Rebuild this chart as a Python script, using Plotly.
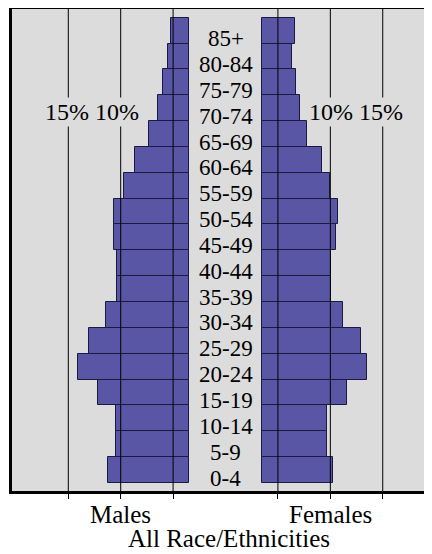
import plotly.graph_objects as go

ages = ["0-4", "5-9", "10-14", "15-19", "20-24", "25-29", "30-34", "35-39",
        "40-44", "45-49", "50-54", "55-59", "60-64", "65-69", "70-74",
        "75-79", "80-84", "85+"]
males = [7.68, 6.98, 6.98, 8.70, 10.55, 9.53, 7.93, 6.85, 6.85, 7.10, 7.10,
         6.21, 5.13, 3.76, 2.90, 2.42, 1.94, 1.72]
females = [6.79, 6.15, 6.15, 8.10, 9.97, 9.43, 7.71, 6.60, 6.60, 7.01, 7.27,
           6.50, 5.67, 4.30, 3.60, 3.22, 2.84, 3.09]
grid_vals = [-15, -10, -5, 5, 10, 15]
side_labels = ["Males", "Females"]
subtitle = "All Race/Ethnicities"

GAP = 3.5          # half-width of the central label column (in % units)
BAR = "#5a56a6"
EDGE = "#1a1a40"
BG = "#dcdcdc"
FONT = "Liberation Serif"
idx = list(range(len(ages)))

fig = go.Figure()
fig.add_trace(go.Bar(y=idx, x=[-v for v in males], base=-GAP, orientation="h",
                     width=1, marker=dict(color=BAR, line=dict(color=EDGE, width=1)),
                     hoverinfo="skip", showlegend=False))
fig.add_trace(go.Bar(y=idx, x=females, base=GAP, orientation="h",
                     width=1, marker=dict(color=BAR, line=dict(color=EDGE, width=1)),
                     hoverinfo="skip", showlegend=False))

shapes = []
for g in grid_vals:
    shapes.append(dict(type="line", xref="x", yref="paper", x0=g, x1=g, y0=0, y1=1,
                       line=dict(color="black", width=1), layer="above"))
# top frame line
shapes.append(dict(type="line", xref="paper", yref="paper", x0=0, x1=1, y0=1, y1=1,
                   line=dict(color="black", width=2), layer="above"))

ann = []
for i, a in enumerate(ages):
    ann.append(dict(x=0, y=i, xref="x", yref="y", text=a, showarrow=False,
                    yshift=-8, font=dict(family=FONT, size=23, color="black")))
ann.append(dict(x=-12.7, y=13.85, xref="x", yref="y", text="15% 10%", showarrow=False,
                bgcolor=BG, borderpad=1, font=dict(family=FONT, size=24, color="black")))
ann.append(dict(x=12.45, y=13.85, xref="x", yref="y", text="10% 15%", showarrow=False,
                bgcolor=BG, borderpad=1, font=dict(family=FONT, size=24, color="black")))
ann.append(dict(x=-10, y=-0.048, xref="x", yref="paper", text=side_labels[0], showarrow=False,
                yanchor="middle", font=dict(family=FONT, size=25, color="black")))
ann.append(dict(x=10, y=-0.048, xref="x", yref="paper", text=side_labels[1], showarrow=False,
                yanchor="middle", font=dict(family=FONT, size=25, color="black")))
ann.append(dict(x=0.3, y=-0.098, xref="x", yref="paper", text=subtitle, showarrow=False,
                yanchor="middle", font=dict(family=FONT, size=25, color="black")))

fig.update_layout(
    width=424, height=546,
    margin=dict(l=4, r=0, t=0, b=63),
    paper_bgcolor="white", plot_bgcolor=BG,
    barmode="overlay", bargap=0,
    shapes=shapes, annotations=ann,
    xaxis=dict(range=[-20.37, 19.70], tickvals=grid_vals, showticklabels=False,
               ticks="outside", ticklen=5, tickcolor="black", tickwidth=1,
               showgrid=False, zeroline=False, showline=True, linecolor="black",
               linewidth=3, fixedrange=True),
    yaxis=dict(range=[-0.81, 17.875], showticklabels=False, ticks="", showgrid=False,
               zeroline=False, showline=True, linecolor="black", linewidth=3,
               fixedrange=True),
)
fig.write_html("out.html")
